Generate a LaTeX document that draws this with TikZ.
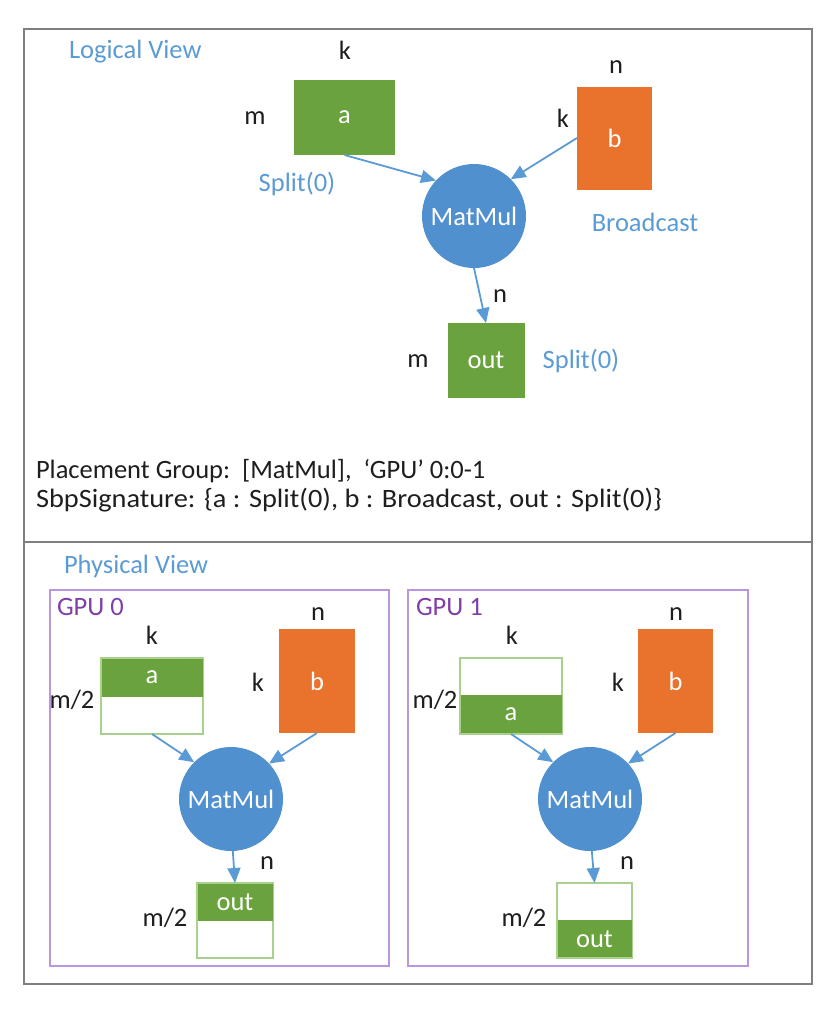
\documentclass[tikz,border=0pt]{standalone}
\usepackage{fontspec}
\setmainfont{Carlito}
\usetikzlibrary{arrows.meta}
\definecolor{mgreen}{HTML}{6AA33D}
\definecolor{lgreen}{HTML}{A9D18E}
\definecolor{morange}{HTML}{E9722C}
\definecolor{mblue}{HTML}{5190CF}
\definecolor{tblue}{HTML}{5B9BD5}
\definecolor{mpurple}{HTML}{7F3FA8}
\definecolor{lpurple}{HTML}{B996DE}
\definecolor{framegray}{HTML}{7F7F7F}
\definecolor{txt}{HTML}{1E1E1E}
\tikzset{
  every node/.style={font=\fontsize{26.5}{31}\selectfont, inner sep=0pt, outer sep=0pt},
  frame/.style={draw=framegray, line width=2pt},
  gpubox/.style={draw=lpurple, line width=1.6pt},
  gbox/.style={fill=mgreen, text=white},
  obox/.style={fill=morange, text=white},
  outline/.style={draw=lgreen, line width=1.2pt, fill=white},
  opnode/.style={circle, fill=mblue, text=white, minimum size=104pt},
  dimlbl/.style={text=txt},
  blbl/.style={text=tblue},
  plbl/.style={text=mpurple},
  arr/.style={draw=tblue, line width=1.8pt, -{Triangle[length=15pt,width=13pt]}},
}
\begin{document}
\begin{tikzpicture}[x=1pt,y=-1pt]
\useasboundingbox (0,0) rectangle (838,1010);
% frame
\draw[frame] (24,29) rectangle (812,984);
\draw[frame] (24,542) -- (812,542);

% ---------- Logical view ----------
\node[blbl, anchor=west] (lv) at (69,52) {Logical View};
\node[gbox, minimum width=101pt, minimum height=75pt] (a) at (344.5,117.5) {a};
\node[dimlbl] (ak) at (345,50) {k};
\node[dimlbl] (am) at (255,118) {m};
\node[blbl] (asp) at (297,184) {Split(0)};
\node[obox, minimum width=75pt, minimum height=103pt] (b) at (614.5,138) {b};
\node[dimlbl] (bn) at (616,67) {n};
\node[dimlbl] (bk) at (563,118) {k};
\node[blbl] (bbc) at (645,222) {Broadcast};
\node[opnode] (mm) at (474,216) {MatMul};
\node[gbox, minimum width=77pt, minimum height=75pt] (out) at (486,360.5) {out};
\node[dimlbl] (on) at (500,296) {n};
\node[dimlbl] (om) at (418,361) {m};
\node[blbl] (osp) at (581,361) {Split(0)};
\draw[arr] (a.south) -- (mm.137);
\draw[arr] (b.west) -- (mm.45);
\draw[arr] (mm.-90) -- (out.north);

\node[dimlbl, anchor=west] (pg) at (36,471) {Placement Group:\ \ [MatMul],\ \ ‘GPU’ 0:0-1};
\node[dimlbl, anchor=west] (sbp) at (36,500) {\scalebox{1.07}[1]{SbpSignature: \{a : Split(0), b : Broadcast, out : Split(0)\}}};

% ---------- Physical view ----------
\node[blbl, anchor=west] (pv) at (64,566) {Physical View};

% GPU 0
\draw[gpubox] (50,590) rectangle (389,966);
\node[plbl, anchor=west] (g0) at (57,607) {GPU 0};
\node[outline, minimum width=102pt, minimum height=76pt] (a0) at (152,696) {};
\node[gbox, minimum width=101pt, minimum height=38pt, anchor=north] (a0h) at ([yshift=-0.6pt]a0.north) {a};
\node[dimlbl] (a0k) at (152,635) {k};
\node[dimlbl] (a0m) at (72,700) {m/2};
\node[obox, minimum width=76pt, minimum height=104pt] (b0) at (317,681) {b};
\node[dimlbl] (b0n) at (318,614) {n};
\node[dimlbl] (b0k) at (258,682) {k};
\node[opnode] (mm0) at (231,799) {MatMul};
\node[outline, minimum width=76pt, minimum height=75pt] (o0) at (235,920.5) {};
\node[gbox, minimum width=75pt, minimum height=37pt, anchor=north] (o0h) at ([yshift=-0.6pt]o0.north) {out};
\node[dimlbl] (o0n) at (267,863) {n};
\node[dimlbl] (o0m) at (165,918) {m/2};
\draw[arr] (a0.south) -- (mm0.135);
\draw[arr] (b0.south) -- (mm0.43);
\draw[arr] (mm0.-88) -- (o0.north);

% GPU 1
\draw[gpubox] (408,590) rectangle (748,966);
\node[plbl, anchor=west] (g1) at (416,607) {GPU 1};
\node[outline, minimum width=102pt, minimum height=76pt] (a1) at (511,696) {};
\node[gbox, minimum width=101pt, minimum height=38pt, anchor=south] (a1h) at ([yshift=0.6pt]a1.south) {a};
\node[dimlbl] (a1k) at (512,635) {k};
\node[dimlbl] (a1m) at (435,700) {m/2};
\node[obox, minimum width=75pt, minimum height=104pt] (b1) at (675.5,681) {b};
\node[dimlbl] (b1n) at (676,614) {n};
\node[dimlbl] (b1k) at (618,682) {k};
\node[opnode] (mm1) at (590,799) {MatMul};
\node[outline, minimum width=75pt, minimum height=75pt] (o1) at (594.5,920.5) {};
\node[gbox, minimum width=74pt, minimum height=37pt, anchor=south] (o1h) at ([yshift=0.6pt]o1.south) {out};
\node[dimlbl] (o1n) at (627,863) {n};
\node[dimlbl] (o1m) at (524,918) {m/2};
\draw[arr] (a1.south) -- (mm1.135);
\draw[arr] (b1.south) -- (mm1.43);
\draw[arr] (mm1.-88) -- (o1.north);
\end{tikzpicture}
\end{document}
